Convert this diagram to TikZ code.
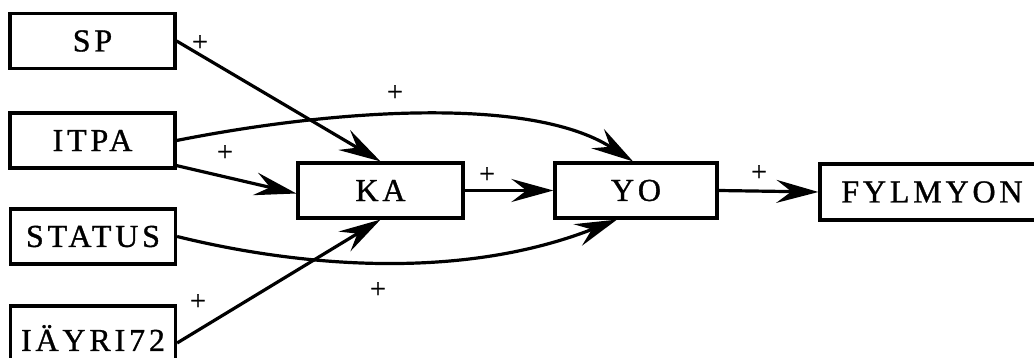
\documentclass[tikz,border=0pt]{standalone}
\usepackage{fontspec}
\newfontfamily\boxfont{Liberation Serif}[LetterSpace=12, FakeBold=1]
\newfontfamily\signfont{Liberation Serif}[FakeBold=0.6]
\usetikzlibrary{arrows.meta}
\begin{document}
\begin{tikzpicture}[x=1pt,y=-1pt,
  box/.style={draw, line width=3.2pt, minimum width=165pt, minimum height=55pt,
    inner sep=0pt, font=\boxfont\fontsize{32}{36}\selectfont},
  link/.style={line width=3.2pt, -{Stealth[length=42pt,width=23pt,inset=15pt]}},
  sign/.style={inner sep=0pt, font=\signfont\fontsize{28}{30}\selectfont}]
\useasboundingbox (0,0) rectangle (1034,358);
\clip (0,0) rectangle (1034,358);

% input variables
\node[box] (sp)     at (92.5,41)    {SP};
\node[box] (itpa)   at (92.5,140.5) {ITPA};
\node[box] (status) at (93,236.5)   {STATUS};
\node[box, overlay, minimum height=64pt, text depth=0pt] (lay) at (93,338) {IÄYRI72};

% chain
\node[box] (ka) at (380.5,190.5) {KA};
\node[box, minimum width=162pt] (yo) at (636,190.5) {YO};
\node[box, overlay, minimum width=224pt, minimum height=56pt] (fy) at (932,192) {FYLMYON};

% connectors
\draw[link] (sp.east) -- (ka.north);
\draw[link] (itpa.south east) ++(0,-4) coordinate (itpaLow) -- ([yshift=-3pt]ka.west);
\draw[link] (itpa.east) .. controls (330,110) and (530,95) .. ([xshift=-3pt]yo.north);
\draw[link] (status.east) .. controls (280,262) and (450,285) .. ([xshift=-19pt]yo.south);
\draw[link] ([yshift=-5pt]lay.east) -- (ka.south);
\draw[link] (ka.east) -- (yo.west);
\draw[link] (yo.east) -- (fy.west);

% signs
\node[sign] (s1) at (200,43)  {+};
\node[sign] (s2) at (225,153) {+};
\node[sign] (s3) at (395,93)  {+};
\node[sign] (s4) at (198,302) {+};
\node[sign] (s5) at (378,290) {+};
\node[sign] (s6) at (487,175) {+};
\node[sign] (s7) at (759,173) {+};
\end{tikzpicture}
\end{document}
